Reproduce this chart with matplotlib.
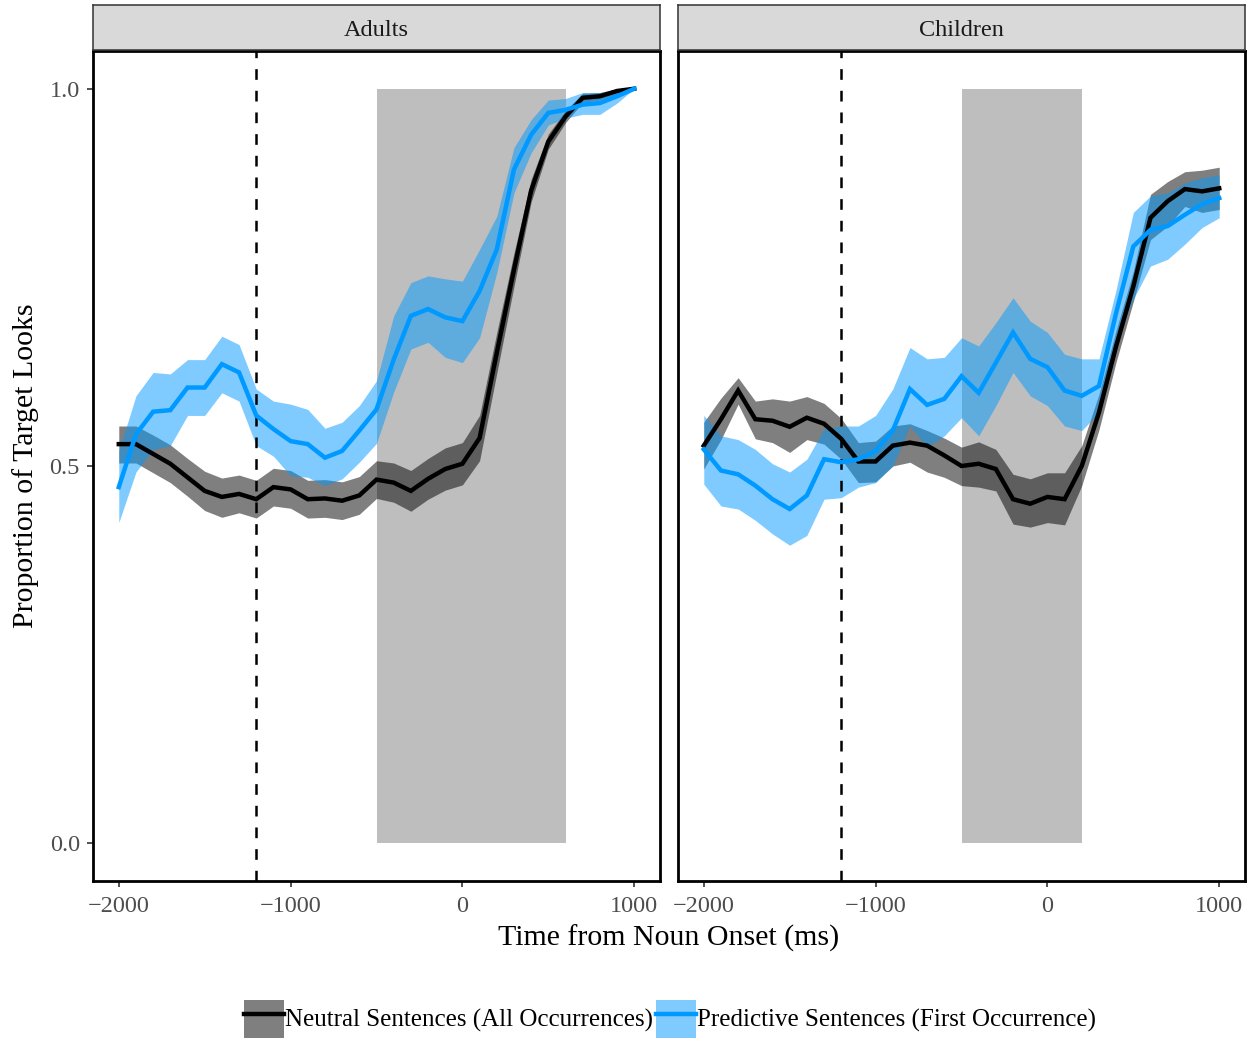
import numpy as np
import matplotlib
matplotlib.use("Agg")
import matplotlib.pyplot as plt
from matplotlib.patches import Patch
from matplotlib.lines import Line2D

plt.rcParams['font.family'] = ['Liberation Serif', 'DejaVu Serif']
plt.rcParams['lines.scale_dashes'] = False

# ---------------- data ----------------
time_ms = list(range(-2000, 1001, 100))

adults_neutral = [0.529, 0.529, 0.516, 0.503, 0.485, 0.467, 0.459, 0.463, 0.456, 0.472,
                  0.469, 0.456, 0.457, 0.454, 0.461, 0.482, 0.478, 0.467, 0.483, 0.496,
                  0.503, 0.537, 0.650, 0.760, 0.865, 0.930, 0.963, 0.988, 0.990, 0.997, 1.000]
adults_neutral_lo = [0.504, 0.504, 0.491, 0.478, 0.460, 0.441, 0.432, 0.438, 0.431, 0.447,
                     0.444, 0.431, 0.432, 0.429, 0.436, 0.457, 0.452, 0.440, 0.456, 0.468,
                     0.475, 0.507, 0.623, 0.738, 0.850, 0.920, 0.955, 0.982, 0.985, 0.993, 1.000]
adults_neutral_hi = [0.553, 0.553, 0.541, 0.528, 0.510, 0.493, 0.484, 0.488, 0.481, 0.497,
                     0.494, 0.481, 0.482, 0.479, 0.486, 0.507, 0.504, 0.494, 0.510, 0.524,
                     0.531, 0.567, 0.677, 0.782, 0.880, 0.940, 0.971, 0.994, 0.995, 1.000, 1.000]

adults_predictive = [0.472, 0.542, 0.572, 0.574, 0.604, 0.604, 0.635, 0.624, 0.567, 0.549,
                     0.533, 0.529, 0.511, 0.520, 0.547, 0.575, 0.641, 0.699, 0.708, 0.697,
                     0.692, 0.732, 0.787, 0.893, 0.939, 0.968, 0.972, 0.979, 0.981, 0.990, 1.000]
adults_predictive_lo = [0.425, 0.492, 0.522, 0.527, 0.567, 0.567, 0.597, 0.586, 0.527, 0.513,
                        0.487, 0.485, 0.474, 0.483, 0.505, 0.530, 0.598, 0.655, 0.664, 0.644,
                        0.637, 0.670, 0.756, 0.862, 0.915, 0.952, 0.961, 0.966, 0.966, 0.981, 1.000]
adults_predictive_hi = [0.520, 0.593, 0.624, 0.622, 0.641, 0.641, 0.672, 0.661, 0.602, 0.586,
                        0.582, 0.575, 0.550, 0.558, 0.580, 0.613, 0.699, 0.743, 0.752, 0.748,
                        0.745, 0.787, 0.831, 0.922, 0.959, 0.985, 0.987, 0.995, 0.995, 0.997, 1.000]

children_neutral = [0.527, 0.562, 0.600, 0.562, 0.560, 0.552, 0.564, 0.556, 0.536, 0.506,
                    0.506, 0.527, 0.531, 0.527, 0.514, 0.500, 0.503, 0.496, 0.456, 0.450,
                    0.459, 0.456, 0.500, 0.571, 0.659, 0.738, 0.829, 0.851, 0.867, 0.864, 0.868]
children_neutral_lo = [0.496, 0.535, 0.582, 0.536, 0.531, 0.518, 0.535, 0.529, 0.509, 0.478,
                       0.479, 0.500, 0.505, 0.492, 0.485, 0.474, 0.472, 0.467, 0.423, 0.419,
                       0.425, 0.422, 0.474, 0.548, 0.638, 0.718, 0.800, 0.818, 0.844, 0.836, 0.840]
children_neutral_hi = [0.558, 0.590, 0.617, 0.586, 0.589, 0.586, 0.592, 0.583, 0.563, 0.531,
                       0.533, 0.553, 0.556, 0.547, 0.537, 0.525, 0.532, 0.522, 0.489, 0.483,
                       0.491, 0.491, 0.527, 0.595, 0.680, 0.758, 0.860, 0.877, 0.890, 0.892, 0.896]

children_predictive = [0.522, 0.494, 0.489, 0.474, 0.456, 0.443, 0.461, 0.509, 0.505, 0.509,
                       0.520, 0.547, 0.602, 0.581, 0.589, 0.619, 0.597, 0.637, 0.677, 0.642,
                       0.631, 0.600, 0.593, 0.606, 0.703, 0.791, 0.813, 0.818, 0.833, 0.847, 0.855]
children_predictive_lo = [0.476, 0.447, 0.443, 0.428, 0.410, 0.395, 0.408, 0.456, 0.458, 0.472,
                          0.478, 0.500, 0.553, 0.525, 0.540, 0.564, 0.540, 0.580, 0.624, 0.593,
                          0.580, 0.553, 0.547, 0.571, 0.668, 0.721, 0.765, 0.774, 0.794, 0.816, 0.829]
children_predictive_hi = [0.567, 0.540, 0.535, 0.522, 0.503, 0.492, 0.509, 0.549, 0.553, 0.553,
                          0.567, 0.602, 0.657, 0.642, 0.644, 0.670, 0.659, 0.690, 0.723, 0.692,
                          0.677, 0.648, 0.642, 0.642, 0.734, 0.836, 0.858, 0.862, 0.875, 0.882, 0.886]

panels = ["Adults", "Children"]
window_adults = [-500, 600]
window_children = [-500, 200]
verb_marker = -1200
x_ticks = [-2000, -1000, 0, 1000]
y_ticks = [0.0, 0.5, 1.0]
y_ticklabels = ["0.0", "0.5", "1.0"]
series_labels = ["Neutral Sentences (All Occurrences)", "Predictive Sentences (First Occurrence)"]

# ---------------- styling ----------------
W, H = 1257, 1038
fig = plt.figure(figsize=(W / 100, H / 100), dpi=100)

NEU_COL = "black"
PRED_COL = "#0099FF"
RECT_COL = "#BEBEBE"
LW = 3.2
TICK_FS = 17.5
LEG_FS = 18
TITLE_FS = 21.5


def fx(px):
    return px / W


def fy(py):
    return 1 - py / H


panel_specs = [
    (93, 660, window_adults,
     (adults_neutral, adults_neutral_lo, adults_neutral_hi),
     (adults_predictive, adults_predictive_lo, adults_predictive_hi)),
    (678, 1245, window_children,
     (children_neutral, children_neutral_lo, children_neutral_hi),
     (children_predictive, children_predictive_lo, children_predictive_hi)),
]

top_px, bot_px = 51, 881
strip_top = 5

for i, (l, r, win, neu, pred) in enumerate(panel_specs):
    ax = fig.add_axes([fx(l), fy(bot_px), (r - l) / W, (bot_px - top_px) / H])
    ax.fill_between(win, [0, 0], [1, 1], color=RECT_COL, lw=0, zorder=1)
    ax.fill_between(time_ms, neu[1], neu[2], color=NEU_COL, alpha=0.5, lw=0, zorder=2)
    ax.fill_between(time_ms, pred[1], pred[2], color=PRED_COL, alpha=0.5, lw=0, zorder=2)
    ax.axvline(verb_marker, color="black", lw=1.8, dashes=(7.7, 7.9), zorder=3)
    ax.plot(time_ms, neu[0], color=NEU_COL, lw=LW, zorder=4, solid_joinstyle="miter")
    ax.plot(time_ms, pred[0], color=PRED_COL, lw=LW, zorder=5, solid_joinstyle="miter")

    ax.set_xlim(-2150, 1150)
    ax.set_ylim(-0.05, 1.05)
    ax.set_xticks(x_ticks)
    ax.set_yticks(y_ticks)
    if i == 0:
        ax.set_yticklabels(y_ticklabels)
    else:
        ax.tick_params(axis="y", left=False, labelleft=False)
    ax.tick_params(axis="both", length=4.5, width=1.2, color="#333333",
                   labelcolor="#4D4D4D", labelsize=TICK_FS)
    ax.tick_params(axis="x", pad=6)
    ax.tick_params(axis="y", pad=5)
    for sp in ax.spines.values():
        sp.set_linewidth(2.0)
        sp.set_color("black")

    # strip
    sax = fig.add_axes([fx(l), fy(top_px - 1), (r - l) / W, (top_px - 1 - strip_top) / H])
    sax.set_facecolor("#D9D9D9")
    sax.set_xticks([])
    sax.set_yticks([])
    for sp in sax.spines.values():
        sp.set_linewidth(1.1)
        sp.set_color("#333333")
    sax.text(0.5, 0.44, panels[i], transform=sax.transAxes, ha="center", va="center",
             fontsize=TICK_FS, color="#1A1A1A")

fig.text(fx(669), fy(938), "Time from Noun Onset (ms)", ha="center", va="center",
         fontsize=TITLE_FS)
fig.text(fx(26), fy(466), "Proportion of Target Looks", ha="center", va="center",
         rotation=90, fontsize=TITLE_FS)

handles = [
    (Patch(facecolor=NEU_COL, alpha=0.5, lw=0), Line2D([], [], color=NEU_COL, lw=LW)),
    (Patch(facecolor=PRED_COL, alpha=0.5, lw=0), Line2D([], [], color=PRED_COL, lw=LW)),
]
fig.legend(handles, series_labels, loc="center", bbox_to_anchor=(fx(670), fy(1019)),
           ncol=2, frameon=False, fontsize=LEG_FS, handlelength=1.6, handleheight=1.95,
           handletextpad=0.06, columnspacing=0.1, borderpad=0, borderaxespad=0)

fig.savefig("out.png", dpi=100)
